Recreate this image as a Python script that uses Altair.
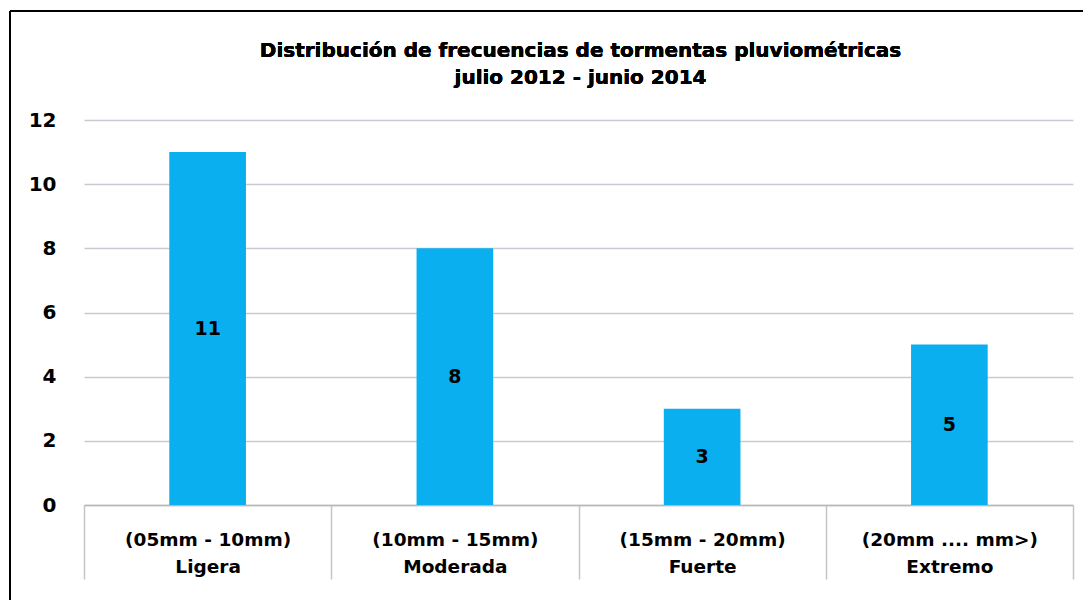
import altair as alt
import pandas as pd

ranges = ["(05mm - 10mm)", "(10mm - 15mm)", "(15mm - 20mm)", "(20mm .... mm>)"]
names = ["Ligera", "Moderada", "Fuerte", "Extremo"]
counts = [11, 8, 3, 5]
y_ticks = [0, 2, 4, 6, 8, 10, 12]
title_lines = ["Distribución de frecuencias de tormentas pluviométricas", "julio 2012 - junio 2014"]

labels = [f"{r}|{n}" for r, n in zip(ranges, names)]
df = pd.DataFrame({"cat": labels, "n": counts, "half": [c / 2 for c in counts]})

W, H = 989, 385
FONT = "DejaVu Sans"
BOX = 74

xenc = alt.X(
    "cat:N",
    sort=labels,
    title=None,
    scale=alt.Scale(paddingInner=0, paddingOuter=0),
    axis=alt.Axis(
        labelExpr="split(datum.label, '|')",
        labelAngle=0,
        labelFont=FONT,
        labelFontSize=18.5,
        labelFontWeight="bold",
        labelColor="#000000",
        labelPadding=40 - BOX,
        labelLineHeight=27,
        labelBaseline="alphabetic",
        ticks=True,
        tickBand="extent",
        tickSize=BOX,
        tickColor="#c4c4c4",
        tickWidth=1.5,
        domainColor="#b8b8b8",
        domainWidth=1.5,
        grid=False,
    ),
)

bars = alt.Chart(df).mark_bar(color="#0AAFEF", width=alt.RelativeBandSize(0.31)).encode(
    x=xenc,
    y=alt.Y(
        "n:Q",
        title=None,
        scale=alt.Scale(domain=[0, 12], nice=False),
        axis=alt.Axis(
            values=y_ticks,
            labelFont=FONT,
            labelFontSize=20,
            labelFontWeight="bold",
            labelColor="#000000",
            labelPadding=28,
            ticks=False,
            domain=False,
            gridColor="#c8ccd2",
            gridWidth=1.5,
        ),
    ),
)

text = alt.Chart(df).mark_text(
    font=FONT, fontSize=19, fontWeight="bold", color="#000000", baseline="middle"
).encode(
    x=alt.X("cat:N", sort=labels),
    y=alt.Y("half:Q"),
    text=alt.Text("n:Q"),
)

frame_top = alt.Chart(df).mark_rule(color="#000000", strokeWidth=2, clip=False).encode(
    x=alt.value(-74), x2=alt.value(W + 20), y=alt.value(-109)
)
frame_left = alt.Chart(df).mark_rule(color="#000000", strokeWidth=2, clip=False).encode(
    x=alt.value(-74), y=alt.value(-109), y2=alt.value(H + 110)
)

title1 = alt.Chart(df).mark_text(
    font=FONT, fontSize=20, fontWeight="bold", color="#000000",
    align="center", baseline="alphabetic",
).encode(x=alt.value(W / 2 + 2), y=alt.value(-63), text=alt.value(title_lines[0]))

title2 = alt.Chart(df).mark_text(
    font=FONT, fontSize=20, fontWeight="bold", color="#000000",
    align="center", baseline="alphabetic",
).encode(x=alt.value(W / 2 + 2), y=alt.value(-36), text=alt.value(title_lines[1]))

chart = (
    alt.layer(bars, text, frame_top, frame_left, title1, title2)
    .properties(
        width=W,
        height=H,
        background="#ffffff",
        autosize=alt.AutoSizeParams(type="none"),
        padding={"left": 76, "top": 112, "right": 10, "bottom": 95},
    )
    .configure_view(strokeWidth=0, stroke="transparent")
)

chart.save("out.html", embed_options={"renderer": "svg", "actions": False})
